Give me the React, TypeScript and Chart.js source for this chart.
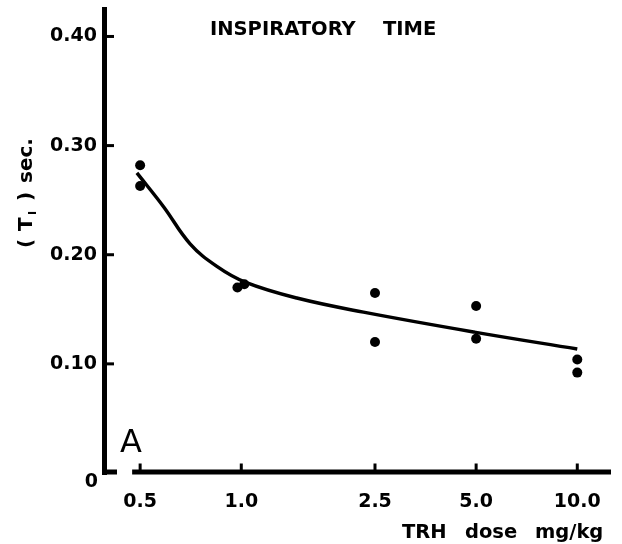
import React, { useEffect, useRef } from "react";
import { Chart, registerables } from "chart.js";

Chart.register(...registerables);

// X axis (log scale): TRH dose, mg/kg
const doseTicks = [0.5, 1, 2.5, 5, 10];
const doseTickLabels = ["0.5", "1.0", "2.5", "5.0", "10.0"];
// Y axis: inspiratory time (sec.)
const timeTicks = [0, 0.1, 0.2, 0.3, 0.4];
const timeTickLabels = ["0", "0.10", "0.20", "0.30", "0.40"];

// Individual observations
const pointDose = [0.5, 0.5, 0.974, 1.021, 2.5, 2.5, 5, 5, 10, 10];
const pointTime = [0.282, 0.263, 0.17, 0.173, 0.165, 0.12, 0.153, 0.123, 0.104, 0.092];

// Fitted curve
const curveDose = [0.489, 0.587, 0.704, 0.846, 1.027, 1.463, 2.31, 4.94, 10];
const curveTime = [0.275, 0.244, 0.21, 0.1893, 0.1749, 0.1603, 0.1474, 0.1291, 0.1136];

const titleWords = ["INSPIRATORY", "TIME"];
const xTitleWords = ["TRH", "dose", "mg/kg"];
const panelLetter = "A";

const FONT = "'DejaVu Sans', 'Liberation Sans', sans-serif";

const decorPlugin = {
  id: "decor",
  afterDraw(chart: any) {
    const { ctx, chartArea, scales } = chart;
    const xs = scales.x;
    const ys = scales.y;
    const y0 = ys.getPixelForValue(0);
    ctx.save();
    ctx.fillStyle = "#000";

    // y axis line
    ctx.fillRect(chartArea.left - 3, chartArea.top, 5, y0 + 2 - chartArea.top);
    // y ticks pointing inward
    timeTicks.slice(1).forEach((v) => {
      const py = ys.getPixelForValue(v);
      ctx.fillRect(chartArea.left, py - 1.5, 9, 3);
    });

    // x axis: short stub at origin, then main line
    const axisY = y0 - 1;
    ctx.fillRect(chartArea.left - 3, axisY - 2.5, 15, 5);
    const startX = xs.getPixelForValue(doseTicks[0]) - 8;
    ctx.fillRect(startX, axisY - 2.5, chartArea.right - startX, 5);
    doseTicks.forEach((v) => {
      const px = xs.getPixelForValue(v);
      ctx.fillRect(px - 1.5, axisY - 8.5, 3, 7);
    });

    ctx.textBaseline = "alphabetic";

    // origin label, set slightly below the axis as in the original
    ctx.textAlign = "right";
    ctx.font = `bold 19px ${FONT}`;
    ctx.fillText(timeTickLabels[0], chartArea.left - 7, y0 + 14);

    // Title
    ctx.textAlign = "left";
    ctx.font = `bold 19.5px ${FONT}`;
    ctx.fillText(titleWords[0], 210, 35);
    ctx.fillText(titleWords[1], 383, 35);

    // X axis title
    ctx.fillText(xTitleWords[0], 402, 538);
    ctx.fillText(xTitleWords[1], 465, 538);
    ctx.fillText(xTitleWords[2], 535, 538);

    // Panel letter
    ctx.font = `32px ${FONT}`;
    ctx.fillText(panelLetter, 120, 452);

    // Y axis title (rotated) "( T_I ) sec."
    ctx.save();
    ctx.translate(32, 248);
    ctx.rotate(-Math.PI / 2);
    ctx.font = `bold 20px ${FONT}`;
    ctx.fillText("(", 0, 0);
    ctx.fillText("T", 17, 0);
    ctx.font = `bold 11px ${FONT}`;
    ctx.fillText("I", 33, 4);
    ctx.font = `bold 20px ${FONT}`;
    ctx.fillText(")", 47, 0);
    ctx.fillText("sec.", 65, 0);
    ctx.restore();

    ctx.restore();
  },
};

export default function App() {
  const canvasRef = useRef<HTMLCanvasElement | null>(null);

  useEffect(() => {
    const canvas = canvasRef.current;
    if (!canvas) return;
    const chart = new Chart(canvas, {
      type: "scatter",
      data: {
        datasets: [
          {
            label: "fit",
            data: curveDose.map((x, i) => ({ x, y: curveTime[i] })),
            showLine: true,
            borderColor: "#000",
            borderWidth: 3.5,
            pointRadius: 0,
            tension: 0.4,
          } as any,
          {
            label: "obs",
            data: pointDose.map((x, i) => ({ x, y: pointTime[i] })),
            backgroundColor: "#000",
            borderWidth: 0,
            pointRadius: 5,
          },
        ],
      },
      options: {
        responsive: false,
        animation: false,
        events: [],
        layout: { padding: { top: 7, right: 11, left: 0, bottom: 0 } },
        plugins: {
          legend: { display: false },
          title: { display: false },
          tooltip: { enabled: false },
        },
        scales: {
          x: {
            type: "logarithmic",
            min: 0.393,
            max: 12.6,
            grid: { display: false, drawTicks: false },
            border: { display: false },
            afterBuildTicks: (scale: any) => {
              scale.ticks = doseTicks.map((v) => ({ value: v }));
            },
            afterFit: (scale: any) => {
              scale.height = 71;
              scale.paddingLeft = 0;
              scale.paddingRight = 0;
            },
            ticks: {
              autoSkip: false,
              maxRotation: 0,
              minRotation: 0,
              padding: 18,
              color: "#000",
              font: { family: FONT, size: 19, weight: "bold" },
              callback: (value: any) => {
                const i = doseTicks.indexOf(Number(value));
                return i >= 0 ? doseTickLabels[i] : "";
              },
            },
          },
          y: {
            type: "linear",
            min: 0,
            max: 0.427,
            grid: { display: false, drawTicks: false },
            border: { display: false },
            afterBuildTicks: (scale: any) => {
              scale.ticks = timeTicks.map((v) => ({ value: v }));
            },
            afterFit: (scale: any) => {
              scale.width = 105;
              scale.paddingTop = 0;
              scale.paddingBottom = 0;
            },
            ticks: {
              padding: 8,
              color: "#000",
              font: { family: FONT, size: 19, weight: "bold" },
              callback: (value: any) => {
                const i = timeTicks.findIndex((t) => Math.abs(t - Number(value)) < 1e-9);
                return i > 0 ? timeTickLabels[i] : "";
              },
            },
          },
        },
      },
      plugins: [decorPlugin],
    });
    return () => chart.destroy();
  }, []);

  return (
    <div style={{ position: "fixed", left: 0, top: 0, width: 622, height: 544, background: "#fff" }}>
      <canvas ref={canvasRef} width={622} height={544} style={{ display: "block" }} />
    </div>
  );
}
